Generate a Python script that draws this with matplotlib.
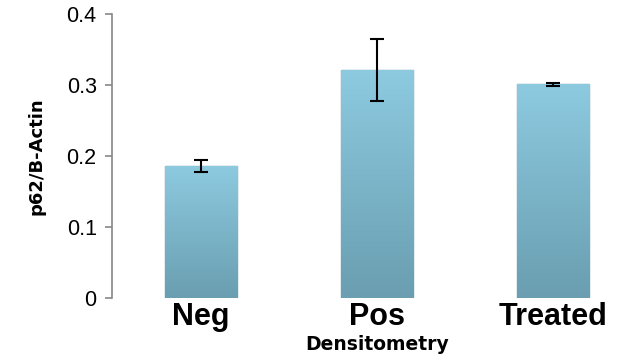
import numpy as np
import matplotlib
matplotlib.use("Agg")
import matplotlib.pyplot as plt

groups = ["Neg", "Pos", "Treated"]
means = [0.186, 0.321, 0.301]
errs = [0.008, 0.044, 0.002]
yticks = [0, 0.1, 0.2, 0.3, 0.4]

plt.rcParams['font.family'] = ['Liberation Sans', 'DejaVu Sans']

fig = plt.figure(figsize=(6.25, 3.6), dpi=100)
ax = fig.add_axes([112/625, 1-298/360, 1-112/625, (298-14)/360])

x = np.arange(len(groups))
bars = ax.bar(x, means, width=0.41, color='#86C2D8', edgecolor='#6E9AAA', linewidth=1.0, zorder=2)

# vertical gradient inside each bar
grad = np.linspace(0, 1, 256).reshape(-1, 1)
cmap = matplotlib.colors.LinearSegmentedColormap.from_list('b', ['#6A9EB0', '#8DCAE0'])
for b in bars:
    im = ax.imshow(grad, cmap=cmap, origin='lower', aspect='auto', zorder=2.5,
                   extent=[b.get_x(), b.get_x() + b.get_width(), 0, b.get_height()])
    im.set_clip_path(b)

ax.errorbar(x, means, yerr=errs, fmt='none', ecolor='black', elinewidth=1.5,
            capsize=5, capthick=1.5, zorder=4)

ax.set_xlim(-0.506, 2.41)
ax.set_ylim(0, 0.4)
ax.set_yticks(yticks)
ax.set_yticklabels(['0', '0.1', '0.2', '0.3', '0.4'], fontsize=15.5)
ax.set_xticks(x)
ax.set_xticklabels(groups, fontsize=22, fontweight='bold')
ax.tick_params(axis='x', length=0, pad=3)
ax.tick_params(axis='y', length=5, color='#888888', width=1.2, pad=6)
for s in ['top', 'right', 'bottom']:
    ax.spines[s].set_visible(False)
ax.spines['left'].set_color('#888888')
ax.spines['left'].set_linewidth(1.2)

ax.set_ylabel('p62/B-Actin', fontsize=13, fontweight='bold', labelpad=15,
              family='DejaVu Sans')
fig.text(377/625, 1-344/360, 'Densitometry', ha='center', va='center',
         fontsize=13.5, fontweight='bold', family='DejaVu Sans')

fig.savefig('out.png', dpi=100)
